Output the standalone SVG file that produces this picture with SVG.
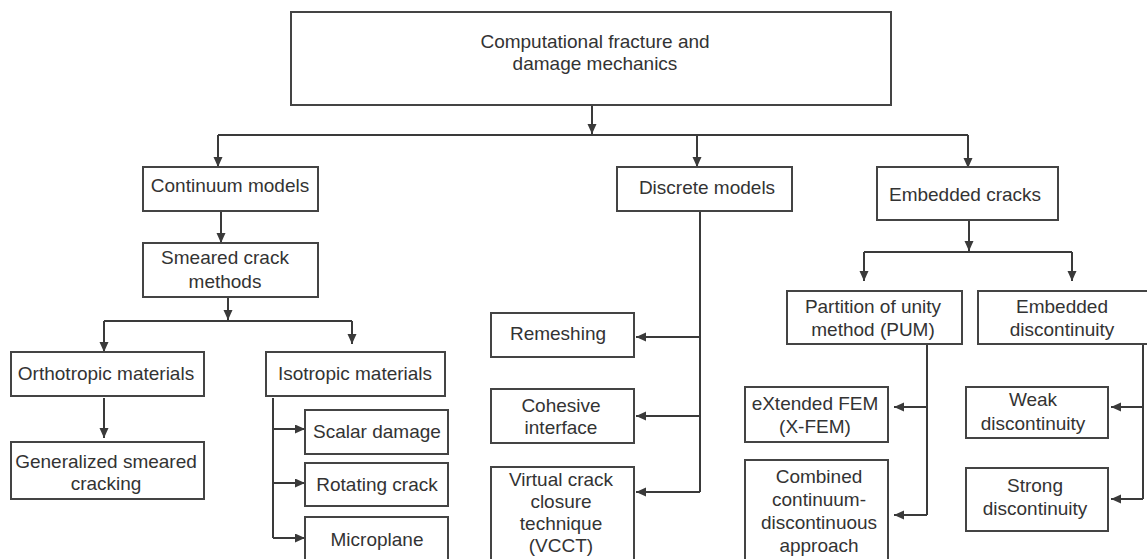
<svg xmlns="http://www.w3.org/2000/svg" width="1147" height="559" viewBox="0 0 1147 559">
<defs>
<marker id="ah" markerWidth="11" markerHeight="10" refX="10" refY="4.5" orient="auto" markerUnits="userSpaceOnUse">
<path d="M0,0 L10,4.5 L0,9 z" fill="#3a3a3a"/>
</marker>
<style>
.box{fill:#fff;stroke:#444;stroke-width:2}
.t{font-family:"Liberation Sans",Arial,sans-serif;font-size:19px;fill:#333;text-anchor:middle}
.c{fill:none;stroke:#3a3a3a;stroke-width:2}
.a{fill:none;stroke:#3a3a3a;stroke-width:2;marker-end:url(#ah)}
</style>
</defs>
<rect width="1147" height="559" fill="#fff"/>
<g id="connectors">
<path class="a" d="M592,105 V134"/>
<path class="c" d="M218,135 H968"/>
<path class="a" d="M218,135 V167"/>
<path class="a" d="M697,135 V167"/>
<path class="a" d="M968,135 V168"/>
<path class="a" d="M221,211 V243"/>
<path class="a" d="M228,297 V320"/>
<path class="c" d="M104,321 H352"/>
<path class="a" d="M104,321 V352"/>
<path class="a" d="M352,321 V344"/>
<path class="a" d="M104,398 V438"/>
<path class="c" d="M273,398 V538"/>
<path class="a" d="M273,429 H305"/>
<path class="a" d="M273,483 H305"/>
<path class="a" d="M273,538 H305"/>
<path class="c" d="M700,211 V492"/>
<path class="a" d="M700,337 H636"/>
<path class="a" d="M700,416 H636"/>
<path class="a" d="M700,492 H636"/>
<path class="a" d="M969,220 V251"/>
<path class="c" d="M864,252 H1072"/>
<path class="a" d="M864,252 V281"/>
<path class="a" d="M1072,252 V281"/>
<path class="c" d="M927,344 V515"/>
<path class="a" d="M927,407 H894"/>
<path class="a" d="M927,515 H894"/>
<path class="c" d="M1143,344 V499"/>
<path class="a" d="M1143,407 H1111"/>
<path class="a" d="M1143,499 H1111"/>
</g>
<g id="root"><rect class="box" x="291" y="12" width="600" height="93"/>
<text class="t" x="595" y="48">Computational fracture and</text><text class="t" x="595" y="70">damage mechanics</text></g>
<g id="continuum"><rect class="box" x="143" y="167" width="175" height="44"/><text class="t" x="230" y="192">Continuum models</text></g>
<g id="smeared"><rect class="box" x="143" y="243" width="175" height="54"/><text class="t" x="225" y="264">Smeared crack</text><text class="t" x="225" y="288">methods</text></g>
<g id="orthotropic"><rect class="box" x="11" y="352" width="193" height="44"/><text class="t" x="106" y="380">Orthotropic materials</text></g>
<g id="isotropic"><rect class="box" x="266" y="352" width="179" height="44"/><text class="t" x="355" y="380">Isotropic materials</text></g>
<g id="generalized"><rect class="box" x="11" y="442" width="193" height="57"/><text class="t" x="106" y="468">Generalized smeared</text><text class="t" x="106" y="490">cracking</text></g>
<g id="scalar"><rect class="box" x="305" y="410" width="143" height="44"/><text class="t" x="377" y="438">Scalar damage</text></g>
<g id="rotating"><rect class="box" x="305" y="463" width="143" height="43"/><text class="t" x="377" y="491">Rotating crack</text></g>
<g id="microplane"><rect class="box" x="305" y="517" width="143" height="50"/><text class="t" x="377" y="546">Microplane</text></g>
<g id="discrete"><rect class="box" x="617" y="167" width="175" height="44"/><text class="t" x="707" y="194">Discrete models</text></g>
<g id="remeshing"><rect class="box" x="491" y="313" width="143" height="44"/><text class="t" x="558" y="340">Remeshing</text></g>
<g id="cohesive"><rect class="box" x="491" y="389" width="143" height="54"/><text class="t" x="561" y="412">Cohesive</text><text class="t" x="561" y="434">interface</text></g>
<g id="vcct"><rect class="box" x="491" y="467" width="143" height="100"/><text class="t" x="561" y="486">Virtual crack</text><text class="t" x="561" y="508">closure</text><text class="t" x="561" y="530">technique</text><text class="t" x="561" y="552">(VCCT)</text></g>
<g id="embedded"><rect class="box" x="877" y="167" width="181" height="53"/><text class="t" x="965" y="201">Embedded cracks</text></g>
<g id="pum"><rect class="box" x="787" y="291" width="175" height="53"/><text class="t" x="873" y="313">Partition of unity</text><text class="t" x="873" y="336">method (PUM)</text></g>
<g id="embdisc"><rect class="box" x="978" y="291" width="180" height="53"/><text class="t" x="1062" y="313">Embedded</text><text class="t" x="1062" y="336">discontinuity</text></g>
<g id="xfem"><rect class="box" x="745" y="387" width="143" height="55"/><text class="t" x="815" y="410">eXtended FEM</text><text class="t" x="815" y="433">(X-FEM)</text></g>
<g id="combined"><rect class="box" x="745" y="460" width="143" height="107"/><text class="t" x="819" y="483">Combined</text><text class="t" x="819" y="506">continuum-</text><text class="t" x="819" y="529">discontinuous</text><text class="t" x="819" y="552">approach</text></g>
<g id="weak"><rect class="box" x="966" y="387" width="142" height="51"/><text class="t" x="1033" y="406">Weak</text><text class="t" x="1033" y="430">discontinuity</text></g>
<g id="strong"><rect class="box" x="966" y="468" width="142" height="63"/><text class="t" x="1035" y="492">Strong</text><text class="t" x="1035" y="515">discontinuity</text></g>
</svg>
